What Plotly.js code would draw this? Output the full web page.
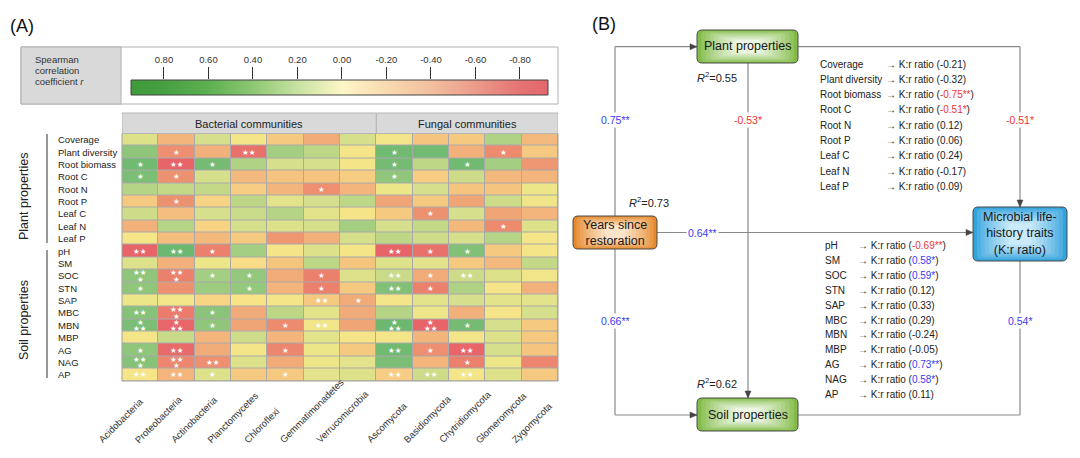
<!DOCTYPE html>
<html>
<head>
<meta charset="utf-8">
<script src="https://cdn.plot.ly/plotly-3.0.1.min.js"></script>
<style>html,body{margin:0;padding:0;background:#fff;}#chart{width:1080px;height:458px;}</style>
</head>
<body>
<div id="chart"></div>
<script>
// ---------- DATA ----------
const taxa = ['Acidobacteria','Proteobacteria','Actinobacteria','Planctomycetes','Chloroflexi','Gemmatimonadetes','Verrucomicrobia','Ascomycota','Basidiomycota','Chytridiomycota','Glomeromycota','Zygomycota'];
const bacterialCount = 7;
const variables = ['Coverage','Plant diversity','Root biomass','Root C','Root N','Root P','Leaf C','Leaf N','Leaf P','pH','SM','SOC','STN','SAP','MBC','MBN','MBP','AG','NAG','AP'];

const rValues = [
  [0.12,-0.30,0.15,0.00,-0.20,-0.35,0.15,0.02,-0.22,-0.20,0.30,-0.28],
  [0.45,-0.50,-0.32,-0.65,0.35,0.25,0.00,0.60,0.60,-0.32,-0.52,-0.20],
  [0.60,-0.72,0.58,0.30,0.15,0.15,0.00,0.58,0.25,0.60,0.35,-0.45],
  [0.55,-0.48,0.15,-0.28,-0.22,-0.22,-0.18,0.45,-0.18,0.18,-0.28,-0.30],
  [0.28,0.22,0.22,-0.18,-0.30,-0.50,-0.30,0.05,0.15,-0.22,-0.22,0.05],
  [-0.20,-0.48,-0.15,0.25,0.10,0.15,0.25,-0.38,-0.20,-0.38,0.18,0.02],
  [0.18,-0.25,0.15,0.20,0.28,0.10,-0.02,-0.20,-0.48,0.15,-0.38,-0.30],
  [-0.32,0.28,-0.15,0.15,0.12,0.15,0.35,0.15,0.22,-0.28,-0.52,0.12],
  [-0.02,-0.25,-0.28,-0.20,-0.45,-0.32,0.15,0.25,0.18,0.15,0.28,0.00],
  [-0.72,0.62,-0.58,0.35,-0.02,0.12,0.00,-0.72,-0.65,0.52,-0.20,0.00],
  [0.12,-0.32,0.05,-0.10,-0.22,0.25,-0.22,0.12,0.10,-0.20,-0.28,0.22],
  [0.45,-0.58,0.35,0.42,-0.35,-0.58,0.12,0.20,-0.35,0.18,0.12,0.02],
  [0.45,-0.48,0.38,0.42,-0.30,-0.58,-0.20,0.52,-0.58,0.30,-0.02,-0.32],
  [0.05,0.02,-0.15,-0.05,0.00,-0.20,-0.35,0.00,0.10,0.15,0.10,0.10],
  [0.50,-0.60,0.48,-0.35,0.25,0.10,-0.35,0.28,0.05,-0.32,-0.02,0.15],
  [0.55,-0.70,0.45,-0.38,-0.52,0.02,-0.38,0.62,-0.72,0.58,0.15,-0.20],
  [0.00,0.20,-0.30,0.18,-0.30,0.10,-0.02,0.00,-0.30,0.00,0.12,-0.20],
  [0.45,-0.68,-0.35,0.00,-0.55,0.05,-0.20,0.60,-0.50,-0.70,0.15,-0.22],
  [0.50,-0.55,-0.50,0.12,-0.35,0.05,0.10,0.55,-0.30,-0.58,0.05,-0.55],
  [-0.02,-0.30,0.12,-0.20,-0.20,0.10,0.12,-0.18,0.18,0.00,0.12,-0.20]
];

// significance marks ("a/b" = two stacked marks)
const sigMarks = [
  ['','','','','','','','','','','',''],
  ['','*','','**','','','','*','','','*',''],
  ['*','**','*','','','','','*','','*','',''],
  ['*','*','','','','','','*','','','',''],
  ['','','','','','*','','','','','',''],
  ['','*','','','','','','','','','',''],
  ['','','','','','','','','*','','',''],
  ['','','','','','','','','','','*',''],
  ['','','','','','','','','','','',''],
  ['**','**','*','','','','','**','*','*','',''],
  ['','','','','','','','','','','',''],
  ['**/*','**/*','*','*','','*','','**','*','**','',''],
  ['*','','','*','','*','','**','*','','',''],
  ['','','','','','**','*','','','','',''],
  ['**','**/*','*','','','','','','','','',''],
  ['*/**','*/**','*','','*','**','','*/**','*/**','*','',''],
  ['','','','','','','','','','','',''],
  ['*','**','','','*','','','**','*','**','',''],
  ['**/*','**/*','**','','','','','','','*','',''],
  ['**','**','*','','*','','','**','**','**','','']
];

const cbTickVals = [0.8,0.6,0.4,0.2,0.0,-0.2,-0.4,-0.6,-0.8];
const cbRange = [0.948,-0.926];

// Panel B data
const upperLabels = ['Coverage','Plant diversity','Root biomass','Root C','Root N','Root P','Leaf C','Leaf N','Leaf P'];
const upperCoef = [-0.21,-0.32,-0.75,-0.51,0.12,0.06,0.24,-0.17,0.09];
const upperSig = ['','','**','*','','','','',''];
const lowerLabels = ['pH','SM','SOC','STN','SAP','MBC','MBN','MBP','AG','NAG','AP'];
const lowerCoef = [-0.69,0.58,0.59,0.12,0.33,0.29,-0.24,-0.05,0.73,0.58,0.11];
const lowerSig = ['**','*','*','','','','','','**','*',''];
const pathNames = ['yearsPlant','plantSoil','plantKr','yearsKr','yearsSoil','soilKr'];
const pathCoef = [0.75,-0.53,-0.51,0.64,0.66,0.54];
const pathSig = ['**','*','*','**','**','*'];
const r2Names = ['plant','years','soil'];
const r2Values = [0.55,0.73,0.62];

// ---------- HELPERS ----------
const W = 1080, H = 458;
const X = p => p / W;
const Y = p => 1 - p / H;
const FONT = 'Liberation Sans, Arial, Helvetica, sans-serif';
const RED = '#ef3434', BLUE = '#3b3bf2';

function scaleFromStops(stops, lo, hi) {
  return stops.map(s => [(s[0] - lo) / (hi - lo), s[1]]);
}
const heatStops = [[-0.8,'#e35a62'],[-0.7,'#e8666a'],[-0.55,'#ec866e'],[-0.45,'#ee9772'],[-0.35,'#f1ab78'],[-0.25,'#f4bf7e'],[-0.15,'#f7d384'],[-0.05,'#f8e487'],[0.05,'#ede689'],[0.15,'#d6df8b'],[0.28,'#b5d486'],[0.4,'#98c97e'],[0.5,'#86c278'],[0.62,'#6db871'],[0.8,'#56ab62']];
const barStops = [[-0.93,'#e3666a'],[-0.8,'#e57373'],[-0.6,'#eb9b8b'],[-0.4,'#f2bf9f'],[-0.2,'#f8dab0'],[0,'#fdf6c8'],[0.2,'#c8e2a1'],[0.4,'#8ec874'],[0.6,'#5db050'],[0.8,'#47a043'],[0.95,'#3e9a3a']];

function fmt(v) { return (v < 0 ? '-' : '') + Math.abs(v).toFixed(2); }
function hex2rgb(h) { return [parseInt(h.slice(1,3),16), parseInt(h.slice(3,5),16), parseInt(h.slice(5,7),16)]; }
function mix(a, b, t) {
  const A = hex2rgb(a), B = hex2rgb(b);
  return 'rgb(' + A.map((v,i) => Math.round(v + (B[i]-v)*t)).join(',') + ')';
}
function rrPath(x0, y0, x1, y1, r) {
  const P = (x, y) => X(x) + ',' + Y(y);
  return 'M' + P(x0+r,y0) + ' L' + P(x1-r,y0) + ' Q' + P(x1,y0) + ' ' + P(x1,y0+r) +
         ' L' + P(x1,y1-r) + ' Q' + P(x1,y1) + ' ' + P(x1-r,y1) +
         ' L' + P(x0+r,y1) + ' Q' + P(x0,y1) + ' ' + P(x0,y1-r) +
         ' L' + P(x0,y0+r) + ' Q' + P(x0,y0) + ' ' + P(x0+r,y0) + ' Z';
}
const canvas = document.createElement('canvas');
const ctx = canvas.getContext('2d');
function textWidth(t, size) { ctx.font = size + 'px "Liberation Sans", Arial, sans-serif'; return ctx.measureText(t).width; }

const shapes = [];
const annotations = [];
function ann(o) {
  annotations.push(Object.assign({xref:'paper', yref:'paper', xanchor:'center', yanchor:'middle', showarrow:false}, o));
}

// ---------- PANEL A ----------
const heat = {
  type: 'heatmap', x: taxa, y: variables, z: rValues,
  colorscale: scaleFromStops(heatStops, -0.8, 0.8), zmin: -0.8, zmax: 0.8,
  xgap: 1, ygap: 1, showscale: false, hoverinfo: 'skip', xaxis: 'x', yaxis: 'y'
};
const cbX = [cbRange[0]].concat(cbTickVals, [cbRange[1]]);
const bar = {
  type: 'heatmap', x: cbX, y: [0], z: [cbX], zsmooth: 'best',
  colorscale: scaleFromStops(barStops, -0.93, 0.95), zmin: -0.93, zmax: 0.95,
  showscale: false, hoverinfo: 'skip', xaxis: 'x2', yaxis: 'y2'
};

shapes.push({type:'rect', layer:'below', xref:'x domain', yref:'y domain', x0:0, x1:1, y0:0, y1:1, fillcolor:'#a9a9a9', line:{width:0}});
shapes.push({type:'rect', xref:'x domain', yref:'y domain', x0:0, x1:1, y0:0, y1:1, line:{color:'#a0a0a0', width:1}});

// colorbar frame
shapes.push({type:'rect', xref:'paper', yref:'paper', x0:X(21), x1:X(558), y0:Y(104), y1:Y(47), line:{color:'#b0b0b0', width:1}});
shapes.push({type:'rect', xref:'paper', yref:'paper', x0:X(21), x1:X(121), y0:Y(104), y1:Y(47), fillcolor:'#d9d9d9', line:{color:'#b0b0b0', width:1}});
shapes.push({type:'rect', xref:'x2 domain', yref:'y2 domain', x0:0, x1:1, y0:0, y1:1, line:{color:'#444', width:1}});
['Spearman','correlation','coefficient <i>r</i>'].forEach((t, i) => {
  ann({x:X(33), y:Y(59 + i*11), xanchor:'left', text:t, font:{size:9.5, color:'#333', family:FONT}});
});

// group headers
const groups = [['Bacterial communities', -0.5, bacterialCount - 0.5], ['Fungal communities', bacterialCount - 0.5, taxa.length - 0.5]];
groups.forEach(g => {
  shapes.push({type:'rect', xref:'x', yref:'paper', x0:g[1], x1:g[2], y0:Y(133.5), y1:Y(113), fillcolor:'#d9d9d9', line:{color:'#b5b5b5', width:1}});
  ann({xref:'x', x:(g[1]+g[2])/2, y:Y(123.5), text:g[0], font:{size:11, color:'#222', family:FONT}});
});

// row labels
variables.forEach(v => {
  ann({yref:'y', x:X(56), y:v, xanchor:'left', text:v, font:{size:9.5, color:'#222', family:FONT}});
});

// rotated column labels (start-anchored along a common baseline)
taxa.forEach((t, j) => {
  const w = textWidth(t, 9.5);
  const half = w / 2 * Math.SQRT1_2;
  const startOffset = j < bacterialCount ? -40 : -26;
  ann({xref:'x', x:t, y:Y(441), xshift:startOffset + half, yshift:half, textangle:-45, text:t, font:{size:9.5, color:'#333', family:FONT}});
});

// brackets and group titles
shapes.push({type:'line', xref:'paper', yref:'paper', x0:X(47), x1:X(47), y0:Y(134), y1:Y(243), line:{color:'#333', width:1}});
shapes.push({type:'line', xref:'paper', yref:'paper', x0:X(47), x1:X(47), y0:Y(250), y1:Y(378), line:{color:'#333', width:1}});
ann({x:X(24), y:Y(196), text:'Plant properties', textangle:-90, font:{size:12.5, color:'#222', family:FONT}});
ann({x:X(24), y:Y(320), text:'Soil properties', textangle:-90, font:{size:12.5, color:'#222', family:FONT}});

// significance stars
sigMarks.forEach((row, i) => row.forEach((s, j) => {
  if (!s) return;
  const parts = s.split('/');
  parts.forEach((p, k) => {
    const shift = parts.length === 1 ? 0 : (k === 0 ? 3 : -3.5);
    ann({xref:'x', yref:'y', x:taxa[j], y:variables[i], text:p.replace(/\*/g,'\u2605'), yshift:shift,
      font:{size:7.5, color:'#ffffff', family:'DejaVu Sans, sans-serif'}});
  });
}));

ann({x:X(8), y:Y(26), xanchor:'left', text:'(A)', font:{size:18, color:'#111', family:FONT}});

// ---------- PANEL B ----------
ann({x:X(590), y:Y(24), xanchor:'left', text:'(B)', font:{size:18, color:'#111', family:FONT}});

const LINE = {color:'#8a8a8a', width:1.2};
const segs = [[615,46.7,697,46.7],[615,46.7,615,415],[615,415,697,415],[748,63,748,398],[798,46.7,1020,46.7],[1020,46.7,1020,207],[657,232.5,973,232.5],[798,415,1020,415],[1020,415,1020,261]];
segs.forEach(s => shapes.push({type:'line', xref:'paper', yref:'paper', x0:X(s[0]), y0:Y(s[1]), x1:X(s[2]), y1:Y(s[3]), line:LINE}));

function gradBox(x0, y0, x1, y1, edge, center) {
  const n = 10, w = x1 - x0, h = y1 - y0;
  for (let k = 0; k < n; k++) {
    const t = k / n;
    const dx = t * w * 0.42, dy = t * h * 0.34;
    const r = Math.max(5 - t * 4, 1);
    shapes.push({type:'path', xref:'paper', yref:'paper', path: rrPath(x0+dx, y0+dy, x1-dx, y1-dy, r), fillcolor: mix(edge, center, Math.pow(t, 0.8)), line:{width:0}});
  }
  shapes.push({type:'path', xref:'paper', yref:'paper', path: rrPath(x0, y0, x1, y1, 5), line:{color:'#4a4a4a', width:1}});
}
gradBox(697, 30, 798, 63, '#82bb47', '#f4faee');
gradBox(697, 398, 798, 431, '#82bb47', '#f4faee');
gradBox(573, 216, 657, 249, '#e5892c', '#fdecd8');
gradBox(973, 207, 1067, 261, '#33a3dd', '#d8f0fc');

ann({x:X(747.5), y:Y(46.5), text:'Plant properties', font:{size:12.5, color:'#1a1a1a', family:FONT}});
ann({x:X(747.5), y:Y(414.5), text:'Soil properties', font:{size:12.5, color:'#1a1a1a', family:FONT}});
ann({x:X(615), y:Y(232.5), text:'Years since<br>restoration', font:{size:12.5, color:'#1a1a1a', family:FONT}});
ann({x:X(1020), y:Y(233.5), text:'Microbial life-<br>history traits<br>(K:r ratio)', font:{size:12.5, color:'#1a1a1a', family:FONT}});

// arrowheads (small triangles)
function arrowRight(x, y) { return 'M' + X(x) + ',' + Y(y) + ' L' + X(x-7) + ',' + Y(y-3) + ' L' + X(x-7) + ',' + Y(y+3) + ' Z'; }
function arrowDown(x, y) { return 'M' + X(x) + ',' + Y(y) + ' L' + X(x-3) + ',' + Y(y-7) + ' L' + X(x+3) + ',' + Y(y-7) + ' Z'; }
[[697,46.7,'r'],[697,415,'r'],[748,398,'d'],[1020,207,'d'],[973,232.5,'r']].forEach(a => {
  shapes.push({type:'path', xref:'paper', yref:'paper', path: a[2] === 'r' ? arrowRight(a[0], a[1]) : arrowDown(a[0], a[1]), fillcolor:'#444', line:{color:'#444', width:0.5}});
});

// path coefficient labels
const pathPos = {yearsPlant:[615,120], plantSoil:[748,120], plantKr:[1020,120], yearsKr:[702,232.5], yearsSoil:[615,321], soilKr:[1020,321]};
pathNames.forEach((n, i) => {
  const p = pathPos[n];
  ann({x:X(p[0]), y:Y(p[1]), text: fmt(pathCoef[i]) + pathSig[i], bgcolor:'#ffffff', borderpad:1,
    font:{size:10.5, color: pathCoef[i] < 0 ? RED : BLUE, family:FONT}});
});

// R2 labels
const r2Pos = {plant:[695,77], years:[627,202], soil:[695,383]};
r2Names.forEach((n, i) => {
  const p = r2Pos[n];
  ann({x:X(p[0]), y:Y(p[1]), xanchor:'left', text:'<i>R</i><sup>2</sup>=' + r2Values[i].toFixed(2), font:{size:11, color:'#222', family:FONT}});
});

// coefficient lists
function coefText(v, s) {
  const num = fmt(v) + s;
  const col = s ? (v < 0 ? RED : BLUE) : null;
  return '\u2192 K:r ratio (' + (col ? '<span style="color:' + col + '">' + num + '</span>' : num) + ')';
}
upperLabels.forEach((l, i) => {
  const y = 64 + i * 15.3;
  ann({x:X(818), y:Y(y), xanchor:'left', text:l, font:{size:10, color:'#222', family:FONT}});
  ann({x:X(884), y:Y(y), xanchor:'left', text:coefText(upperCoef[i], upperSig[i]), font:{size:10, color:'#222', family:FONT}});
});
lowerLabels.forEach((l, i) => {
  const y = 245.7 + i * 14.87;
  ann({x:X(823), y:Y(y), xanchor:'left', text:l, font:{size:10, color:'#222', family:FONT}});
  ann({x:X(856), y:Y(y), xanchor:'left', text:coefText(lowerCoef[i], lowerSig[i]), font:{size:10, color:'#222', family:FONT}});
});

// ---------- LAYOUT ----------
const layout = {
  width: W, height: H, margin: {l:0, r:0, t:0, b:0},
  paper_bgcolor: '#ffffff', plot_bgcolor: '#ffffff',
  font: {family: FONT, color: '#222'},
  showlegend: false,
  xaxis: {domain:[X(122), X(558)], type:'category', anchor:'y', range:[-0.5, taxa.length - 0.5], autorange:false,
          showticklabels:false, ticks:'', showgrid:false, zeroline:false, showline:false, fixedrange:true},
  yaxis: {domain:[Y(381), Y(133.5)], type:'category', anchor:'x', range:[variables.length - 0.5, -0.5], autorange:false,
          showticklabels:false, ticks:'', showgrid:false, zeroline:false, showline:false, fixedrange:true},
  xaxis2: {domain:[X(131), X(548)], anchor:'y2', range:cbRange, autorange:false, side:'top', ticks:'outside', ticklen:12, tickwidth:1, tickcolor:'#333',
           tickvals:cbTickVals, ticktext:cbTickVals.map(v => v.toFixed(2)), tickfont:{size:9.5, color:'#333', family:FONT},
           showgrid:false, zeroline:false, showline:false, fixedrange:true},
  yaxis2: {domain:[Y(95), Y(80)], anchor:'x2', range:[-0.5,0.5], autorange:false, visible:false, fixedrange:true},
  shapes: shapes,
  annotations: annotations
};

Plotly.newPlot('chart', [heat, bar], layout, {displayModeBar:false, staticPlot:true});
</script>
</body>
</html>
